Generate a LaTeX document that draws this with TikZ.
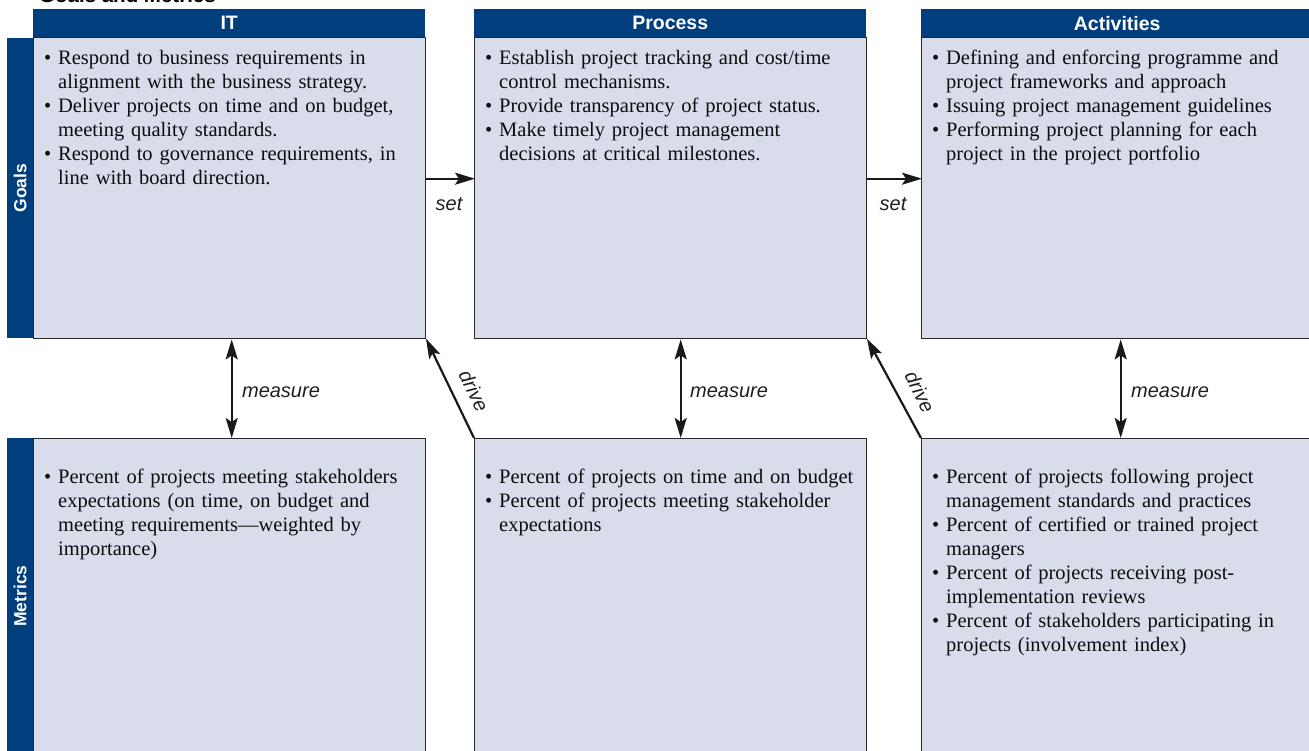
\documentclass[tikz,border=0pt]{standalone}
\usepackage{fontspec}
\setmainfont{Liberation Serif}
\setsansfont{Liberation Sans}
\usetikzlibrary{arrows.meta}
\definecolor{hdblue}{RGB}{0,62,126}
\definecolor{boxfill}{RGB}{217,220,235}
\definecolor{boxline}{RGB}{40,40,40}
\newcommand{\itm}[1]{\par\noindent\hangindent=14pt\hangafter=1\makebox[14pt][l]{\textbullet}#1\par}
\tikzset{
  box/.style={draw=boxline, line width=1.4pt, fill=boxfill, inner sep=0pt, minimum width=392pt, anchor=north west},
  hdr/.style={fill=hdblue, text=white, inner sep=0pt, minimum width=392pt, minimum height=28pt, anchor=north west, font=\sffamily\bfseries\fontsize{19.5}{22}\selectfont},
  side/.style={fill=hdblue, inner sep=0pt, minimum width=26pt, anchor=north west},
  sidelbl/.style={text=white, rotate=90, font=\sffamily\bfseries\fontsize{17.5}{20}\selectfont},
  txt/.style={text width=385pt, inner sep=0pt, align=left, anchor=north west, font=\fontsize{20.5}{24}\selectfont, text=black!95},
  lbl/.style={font=\sffamily\itshape\fontsize{20}{22}\selectfont, text=black!88},
  arr/.style={line width=2.2pt, draw=black!90, -{Stealth[length=20pt,width=12pt,inset=4pt]}, shorten >=-1pt},
  darr/.style={line width=2.2pt, draw=black!90, {Stealth[length=20pt,width=12pt,inset=4pt]}-{Stealth[length=20pt,width=12pt,inset=4pt]}}
}
\begin{document}
\begin{tikzpicture}[x=1pt,y=-1pt]
\useasboundingbox (0,0) rectangle (1309,751);
\node[anchor=base west, inner sep=0pt, font=\sffamily\bfseries\fontsize{20.5}{22}\selectfont] (title) at (39,3) {Goals and Metrics};
% top boxes
\node[box, minimum height=301pt] (itg) at (33,37) {};
\node[box, minimum height=301pt] (prg) at (474,37) {};
\node[box, minimum height=301pt] (acg) at (921,37) {};
% bottom boxes
\node[box, minimum height=330pt] (itm) at (33,438) {};
\node[box, minimum height=330pt] (prm) at (474,438) {};
\node[box, minimum height=330pt] (acm) at (921,438) {};
% headers
\node[hdr] (h1) at (33,9) {IT};
\node[hdr] (h2) at (474,9) {Process};
\node[hdr, minimum width=400pt] (h3) at (921,9) {\hspace*{-8pt}Activities};
% side bars
\node[side, minimum height=300pt] (sg) at (7,38) {};
\node[side, minimum height=330pt] (sm) at (7,438) {};
\node[sidelbl] (lg) at (20,188) {Goals};
\node[sidelbl] (lm) at (20,596) {Metrics};
% texts
\node[txt] (t1) at (44,40) {\itm{Respond to business requirements in\newline alignment with the business strategy.}\itm{Deliver projects on time and on budget,\newline meeting quality standards.}\itm{Respond to governance requirements, in\newline line with board direction.}};
\node[txt] (t2) at (485,40) {\itm{Establish project tracking and cost/time\newline control mechanisms.}\itm{Provide transparency of project status.}\itm{Make timely project management\newline decisions at critical milestones.}};
\node[txt] (t3) at (932,40) {\itm{Defining and enforcing programme and\newline project frameworks and approach}\itm{Issuing project management guidelines}\itm{Performing project planning for each\newline project in the project portfolio}};
\node[txt] (t4) at (44,459) {\itm{Percent of projects meeting stakeholders\newline expectations (on time, on budget and\newline meeting requirements---weighted by\newline importance)}};
\node[txt] (t5) at (485,459) {\itm{Percent of projects on time and on budget}\itm{Percent of projects meeting stakeholder\newline expectations}};
\node[txt] (t6) at (932,459) {\itm{Percent of projects following project\newline management standards and practices}\itm{Percent of certified or trained project\newline managers}\itm{Percent of projects receiving post-\newline implementation reviews}\itm{Percent of stakeholders participating in\newline projects (involvement index)}};
% set arrows
\draw[arr] ([yshift=9.5pt]itg.east) -- ([yshift=9.5pt]prg.west);
\draw[arr] ([yshift=9.5pt]prg.east) -- ([yshift=9.5pt]acg.west);
\node[lbl] (s1) at (449,204) {set};
\node[lbl] (s2) at (893,204) {set};
% measure arrows
\draw[darr] ([xshift=2pt]itg.south) -- ([xshift=2pt]itm.north);
\draw[darr] ([xshift=10pt]prg.south) -- ([xshift=10pt]prm.north);
\draw[darr] ([xshift=3pt]acg.south) -- ([xshift=3pt]acm.north);
\node[lbl] (m1) at (281,392) {measure};
\node[lbl] (m2) at (729,392) {measure};
\node[lbl] (m3) at (1170,392) {measure};
% drive arrows
\draw[arr] (prm.north west) -- (itg.south east);
\draw[arr] (acm.north west) -- (prg.south east);
\node[lbl, rotate=-64] (d1) at (474,391) {drive};
\node[lbl, rotate=-64] (d2) at (920,392) {drive};
\end{tikzpicture}
\end{document}
